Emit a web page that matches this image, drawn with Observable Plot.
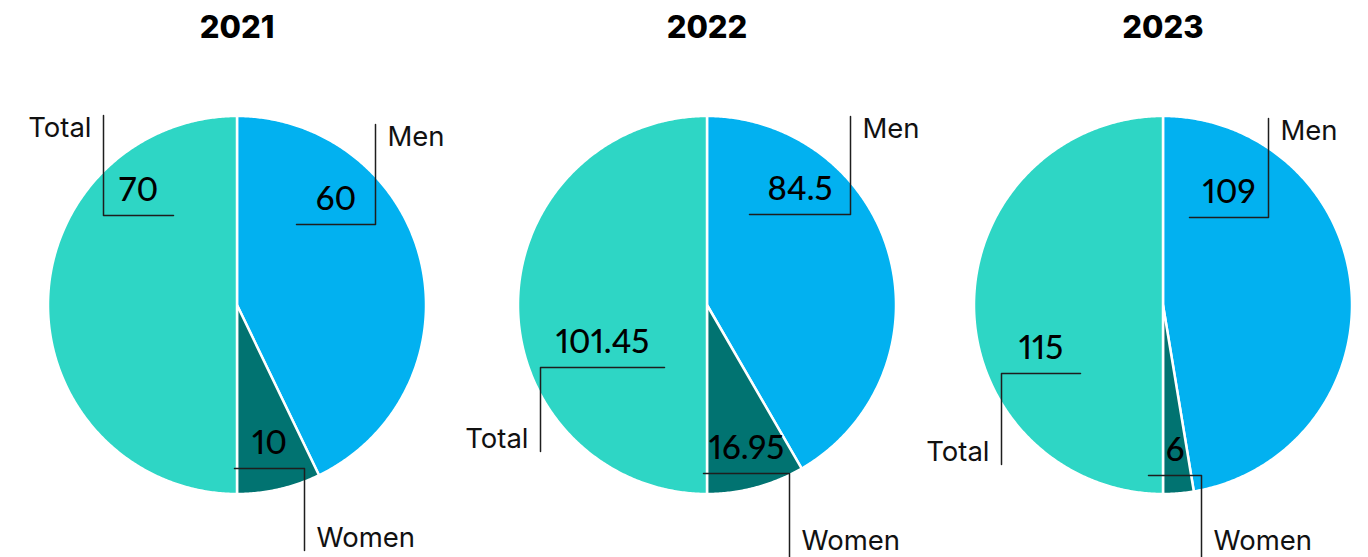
<!DOCTYPE html>
<html>
<head>
<meta charset="utf-8">
<script src="https://cdn.jsdelivr.net/npm/d3@7"></script>
<script src="https://cdn.jsdelivr.net/npm/@observablehq/plot@0.6"></script>
<style>
  html, body { margin: 0; padding: 0; background: #fff; overflow: hidden; }
  #chart svg { display: block; font-variant-numeric: proportional-nums; }
</style>
</head>
<body>
<div id="chart"></div>
<script>
// ---- data ----
const years = ["2021", "2022", "2023"];
const slices = ["Men", "Women", "Total"];
const menValues = [60, 84.5, 109];
const womenValues = [10, 16.95, 6];
const totalValues = [70, 101.45, 115];

// ---- styles ----
const sliceColors = ["#02b1f0", "#017371", "#2ed6c5"];
const valueFont = "Lato, 'Open Sans', sans-serif";
const labelFont = "Inter, Lato, sans-serif";

// ---- layout (pixels) ----
const W = 1368, H = 557;
const pieCenterX = [236.5, 706.5, 1162.5];
const pieCenterY = 304.5;
const pieRadius = 189;
const titleY = 28;
// leader lines relative to pie center: far end (x0,y0), elbow (x1,y1), horizontal end x2
const leaderLayout = {
  "2021": {Total: [-133.5, -189.5, -133.5, -89.5, -63.5], Men: [138.5, -180.5, 138.5, -80.5, 59.5], Women: [67.5, 245.5, 67.5, 163.5, -2.5]},
  "2022": {Total: [-166.5, 146.5, -166.5, 62.5, -42.5], Men: [143.5, -188.5, 143.5, -90.5, 42.5], Women: [82.5, 248, 82.5, 168.5, -3.5]},
  "2023": {Total: [-161.5, 159.5, -161.5, 68.5, -82.5], Men: [105.5, -186.5, 105.5, -87.5, 26.5], Women: [38.5, 248, 38.5, 170.5, -14.5]}
};

// ---- build geometry ----
const pie = d3.pie().sort(null).value(d => d.value);
const wedgePoints = [];
const leaderPoints = [];
const labelRows = [];
const valueRows = [];
const titleRows = [];

years.forEach((year, i) => {
  const cx = pieCenterX[i], cy = pieCenterY;
  titleRows.push({year, x: cx, y: titleY});
  const rows = [
    {slice: "Men", value: menValues[i]},
    {slice: "Women", value: womenValues[i]},
    {slice: "Total", value: totalValues[i]}
  ];
  pie(rows).forEach(a => {
    const key = year + "-" + a.data.slice;
    wedgePoints.push({key, slice: a.data.slice, x: cx, y: cy});
    const n = Math.max(2, Math.ceil((a.endAngle - a.startAngle) / (Math.PI / 360)));
    for (let k = 0; k <= n; k++) {
      const t = a.startAngle + (a.endAngle - a.startAngle) * k / n;
      wedgePoints.push({key, slice: a.data.slice, x: cx + pieRadius * Math.sin(t), y: cy - pieRadius * Math.cos(t)});
    }
    wedgePoints.push({key, slice: a.data.slice, x: cx, y: cy});

    const L = leaderLayout[year][a.data.slice];
    const [x0, y0, x1, y1, x2] = L;
    const extra = (a.data.slice === "Women" && i > 0) ? 6 : 0; // leader runs to the bottom edge
    leaderPoints.push({key, x: cx + x0, y: cy + y0 + extra});
    leaderPoints.push({key, x: cx + x1, y: cy + y1});
    leaderPoints.push({key, x: cx + x2, y: cy + y1});
    const side = a.data.slice === "Total" ? -1 : 1;
    labelRows.push({
      text: a.data.slice,
      x: cx + x0 + side * 12,
      y: cy + y0 + (y0 < y1 ? 13 : -12),
      anchor: side < 0 ? "end" : "start"
    });
    valueRows.push({
      text: String(a.data.value),
      x: cx + (x1 + x2) / 2,
      y: cy + y1 - 25
    });
  });
});

const chart = Plot.plot({
  width: W,
  height: H,
  margin: 0,
  x: {domain: [0, W], range: [0, W], axis: null},
  y: {domain: [0, H], range: [0, H], axis: null},
  color: {domain: slices, range: sliceColors},
  style: {fontFamily: labelFont, background: "white"},
  marks: [
    Plot.line(wedgePoints, {x: "x", y: "y", z: "key", fill: "slice", stroke: "white", strokeWidth: 2.5, strokeLinejoin: "round", curve: "linear"}),
    Plot.line(leaderPoints, {x: "x", y: "y", z: "key", stroke: "#1e1e1e", strokeWidth: 1.5, curve: "linear"}),
    Plot.text(titleRows, {x: "x", y: "y", text: "year", fontSize: 31, fontWeight: 800, fontFamily: labelFont, fill: "#000", lineAnchor: "middle"}),
    Plot.text(labelRows.filter(d => d.anchor === "start"), {x: "x", y: "y", text: "text", textAnchor: "start", fontSize: 27.5, fontWeight: 400, fontFamily: labelFont, fill: "#111", lineAnchor: "middle"}),
    Plot.text(labelRows.filter(d => d.anchor === "end"), {x: "x", y: "y", text: "text", textAnchor: "end", fontSize: 27.5, fontWeight: 400, fontFamily: labelFont, fill: "#111", lineAnchor: "middle"}),
    Plot.text(valueRows, {x: "x", y: "y", text: "text", fontSize: 33, fontWeight: 500, fontFamily: valueFont, fill: "#000", lineAnchor: "middle"})
  ]
});
document.getElementById("chart").appendChild(chart);
</script>
</body>
</html>
